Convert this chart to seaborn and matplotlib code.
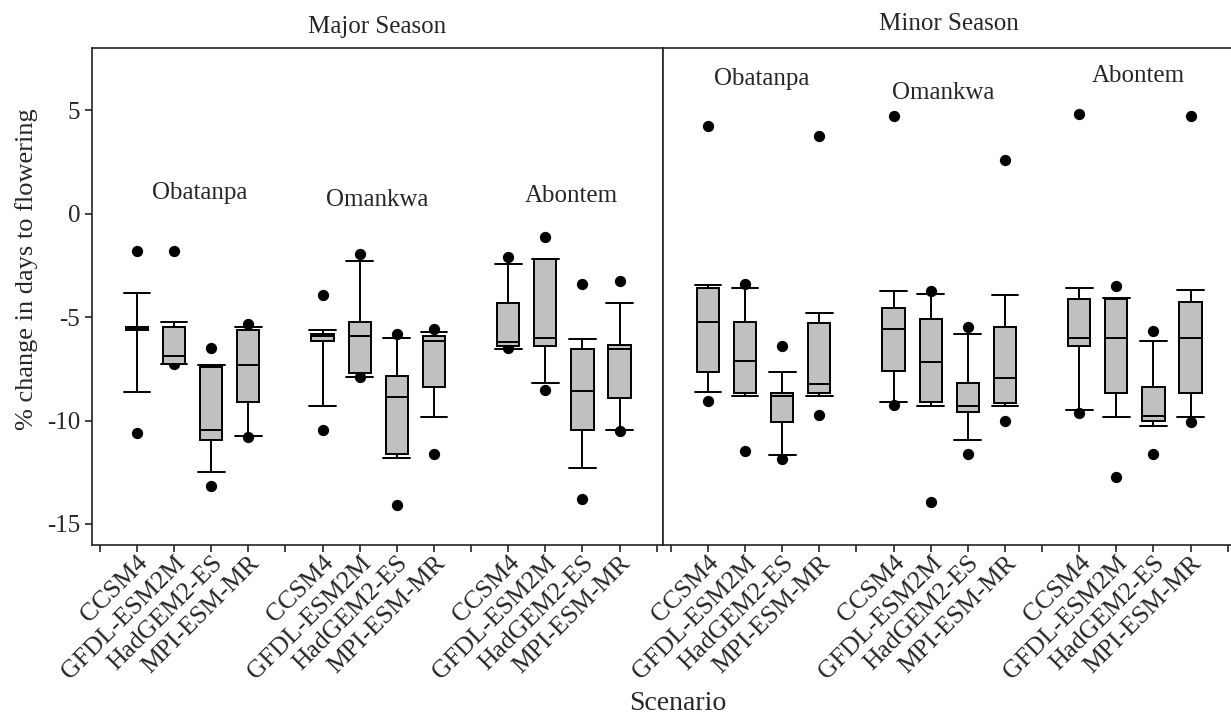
import numpy as np
import pandas as pd
import matplotlib
matplotlib.use('Agg')
import matplotlib.pyplot as plt
import seaborn as sns

models = ['CCSM4', 'GFDL-ESM2M', 'HadGEM2-ES', 'MPI-ESM-MR']
cultivars = ['Obatanpa', 'Omankwa', 'Abontem']
seasons = ['Major Season', 'Minor Season']

# order: cultivar x model (Obatanpa CCSM4 .. Abontem MPI)
major_dot_hi = [-1.82, -1.82, -6.48, -5.35, -3.94, -1.94, -5.81, -5.59, -2.10, -1.14, -3.41, -3.25]
major_whis_hi = [-3.83, -5.22, -7.30, -5.49, -5.61, -2.27, -6.03, -5.70, -2.43, -2.18, -6.07, -4.30]
major_q3 = [-5.46, -5.49, -7.40, -5.64, -5.81, -5.22, -7.85, -5.91, -4.30, -2.18, -6.54, -6.33]
major_med = [-5.54, -6.86, -10.46, -7.30, -5.91, -5.91, -8.85, -6.15, -6.19, -6.01, -8.56, -6.56]
major_q1 = [-5.62, -7.28, -10.94, -9.12, -6.15, -7.72, -11.64, -8.40, -6.40, -6.40, -10.45, -8.93]
major_whis_lo = [-8.64, -7.28, -12.51, -10.74, -9.32, -7.88, -11.80, -9.85, -6.56, -8.20, -12.29, -10.45]
major_dot_lo = [-10.60, -7.28, -13.19, -10.78, -10.46, -7.91, -14.08, -11.64, -6.49, -8.51, -13.80, -10.53]

minor_dot_hi = [4.24, -3.38, -6.38, 3.77, 4.72, -3.73, -5.46, 2.61, 4.84, -3.52, -5.69, 4.74]
minor_whis_hi = [-3.43, -3.57, -7.64, -4.78, -3.73, -3.88, -5.81, -3.94, -3.60, -4.09, -6.15, -3.70]
minor_q3 = [-3.59, -5.22, -8.67, -5.30, -4.57, -5.09, -8.17, -5.49, -4.12, -4.12, -8.40, -4.26]
minor_med = [-5.25, -7.12, -8.81, -8.23, -5.59, -7.19, -9.32, -7.96, -6.02, -6.02, -9.77, -6.02]
minor_q1 = [-7.64, -8.65, -10.09, -8.69, -7.59, -9.12, -9.57, -9.14, -6.40, -8.69, -10.02, -8.69]
minor_whis_lo = [-8.64, -8.80, -11.67, -8.80, -9.12, -9.32, -10.94, -9.31, -9.51, -9.83, -10.25, -9.82]
minor_dot_lo = [-9.04, -11.49, -11.86, -9.72, -9.25, -13.96, -11.62, -10.01, -9.64, -12.72, -11.64, -10.06]

yticks = [5, 0, -5, -10, -15]

sns.set_theme(style='ticks')
plt.rcParams['font.family'] = ['Liberation Serif', 'DejaVu Serif']
plt.rcParams['axes.edgecolor'] = '#222222'
plt.rcParams['axes.linewidth'] = 1.2

fig = plt.figure(figsize=(12.31, 7.18), dpi=100)
W, H = 1231, 718
bottom = 1 - 544.6 / H
height = (544.6 - 48.2) / H
ax1 = fig.add_axes([92 / W, bottom, 571 / W, height])
ax2 = fig.add_axes([663 / W, bottom, 571 / W, height])

season_data = [
    (major_whis_lo, major_q1, major_med, major_q3, major_whis_hi, major_dot_lo, major_dot_hi),
    (minor_whis_lo, minor_q1, minor_med, minor_q3, minor_whis_hi, minor_dot_lo, minor_dot_hi),
]

# box positions: 4 models per cultivar, one blank slot between groups
positions = [g * 5 + 1 + m for g in range(len(cultivars)) for m in range(len(models))]

label_pos = [
    [(2.70, 1.02), (7.48, 0.67), (12.70, 0.87)],
    [(2.45, 6.50), (7.34, 5.83), (12.60, 6.68)],
]
title_pad = [11, 13]

for ax, season, (wlo, q1, med, q3, whi, dlo, dhi), lpos, tp in zip(
        [ax1, ax2], seasons, season_data, label_pos, title_pad):
    stats = []
    for i in range(len(positions)):
        stats.append({'whislo': wlo[i], 'q1': q1[i], 'med': med[i],
                      'q3': q3[i], 'whishi': whi[i], 'fliers': []})
    ax.bxp(stats, positions=positions, widths=0.6, capwidths=0.72,
           patch_artist=True, showfliers=False,
           boxprops=dict(facecolor='#c0c0c0', edgecolor='black', linewidth=1.4),
           medianprops=dict(color='black', linewidth=1.4),
           whiskerprops=dict(color='black', linewidth=1.4),
           capprops=dict(color='black', linewidth=1.4),
           zorder=3)

    dots = pd.DataFrame({'pos': positions + positions, 'val': list(dlo) + list(dhi)})
    sns.scatterplot(data=dots, x='pos', y='val', ax=ax, color='black',
                    s=66, edgecolor='black', linewidth=0, legend=False, zorder=2)

    for name, (x, y) in zip(cultivars, lpos):
        ax.text(x, y, name, ha='center', va='center', fontsize=18)

    ax.set_xlim(-0.21, 15.17)
    ax.set_ylim(-16, 8)
    ticks = list(range(16))
    labels = ['' if t % 5 == 0 else models[t % 5 - 1] for t in ticks]
    ax.set_xticks(ticks)
    ax.set_xticklabels(labels, rotation=45, ha='right', va='top',
                       rotation_mode='anchor', fontsize=18.5)
    ax.tick_params(axis='x', direction='out', length=5, width=1.2, pad=0, color='#222222')
    ax.set_title(season, fontsize=18, pad=tp)
    ax.set_xlabel('')
    ax.set_ylabel('')
    ax.grid(False)

ax1.set_yticks(yticks)
ax1.set_yticklabels([str(t) for t in yticks], fontsize=18)
ax1.tick_params(axis='y', direction='out', length=5, width=1.2, color='#222222')
ax2.set_yticks(yticks)
ax2.tick_params(axis='y', left=False, labelleft=False)

fig.text(27 / W, 1 - 269 / H, '% change in days to flowering', rotation=90,
         ha='center', va='center', fontsize=19)
fig.text(678 / W, 1 - 703 / H, 'Scenario', ha='center', va='center', fontsize=20)

fig.savefig('out.png', dpi=100)
